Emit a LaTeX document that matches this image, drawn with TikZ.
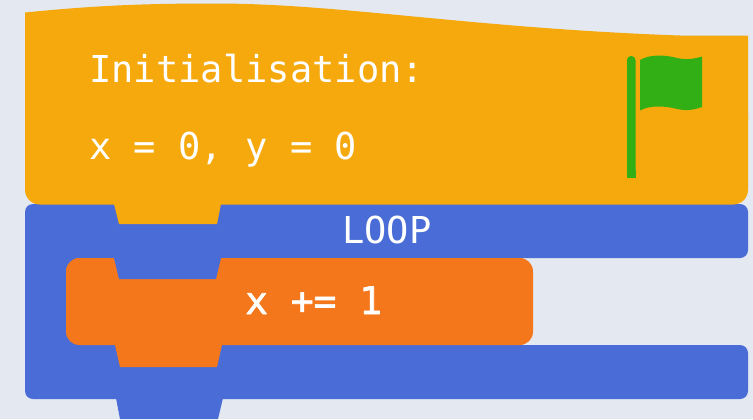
\documentclass[tikz,border=0pt]{standalone}
\usepackage{fontspec}
\setmonofont{DejaVu Sans Mono}
\newfontfamily\stepfont[FakeBold=1.6]{DejaVu Sans Mono}
\usepackage{xcolor}
\definecolor{blockbg}{HTML}{E3E8F1}
\definecolor{blockamber}{HTML}{F6A90C}
\definecolor{blockblue}{HTML}{496CD6}
\definecolor{blockorange}{HTML}{F5771C}
\definecolor{blockgreen}{HTML}{33AF16}
\tikzset{
every picture/.style={line cap=round,line join=round},
init block/.style={fill=blockamber},
loop block/.style={fill=blockblue},
body block/.style={fill=blockorange},
flag part/.style={fill=blockgreen},
block text/.style={text=white, font=\ttfamily\fontsize{27.8}{30}\selectfont, inner sep=0pt, anchor=base west},
body text/.style={block text, font=\stepfont\fontsize{28.4}{30}\selectfont}
}
\begin{document}
\begin{tikzpicture}[x=0.75pt,y=-0.75pt]
\useasboundingbox (0,0) rectangle (753,419);
\fill[blockbg] (0,0) rectangle (753,419);
% loop block
\fill[loop block,rounded corners=6pt] (25,300) -- (25,204) -- (748,204) -- (748,258) -- (66,258) -- (66,345) -- (748,345) -- (748,399) -- (25,399) -- cycle;
\fill[loop block] (60,250) rectangle (85,353);
\fill[loop block] (116,398) -- (223,398) -- (218,419) -- (120,419) -- cycle;
% body block
\fill[body block,rounded corners=10pt] (66,258) rectangle (533,345);
\fill[body block] (115,345) -- (222,345) -- (217,367) -- (120,367) -- cycle;
\fill[loop block] (114,258) -- (221,258) -- (216,279) -- (119,279) -- cycle;
% init block
\fill[init block,rounded corners=11pt] (25,100) -- (25,204.5) -- (748,204.5) -- (748,100) -- cycle;
\fill[init block] (25,120) -- (25,12.5) .. controls (100,5) and (150,3.5) .. (215,3.5)
  .. controls (340,3.5) and (470,28) .. (680,35.5) -- (748,35.5) -- (748,120) -- cycle;
\fill[init block] (114,204) -- (221,204) -- (217,224) -- (119,224) -- cycle;
% flag
\fill[flag part,rounded corners=3pt] (627,178) -- (627,56) -- (635.5,56) -- (635.5,178) -- cycle;
\fill[flag part] (627,178) rectangle (635.5,170);
\fill[flag part] (640,60) .. controls (650,54) and (665,55) .. (675,57.5) .. controls (685,60) and (692,59.5) .. (702,56.5)
  -- (702,107) .. controls (692,110.5) and (685,111) .. (675,108.5) .. controls (665,106) and (650,105) .. (640,110.5) -- cycle;
\node[block text] (title) at (89,82) {Initialisation:};
\node[block text] (vars) at (89,159) {x = 0, y = 0};
\node[block text] (looplabel) at (342,243) {LOOP};
\node[body text] (step) at (245,314) {x += 1};
\end{tikzpicture}
\end{document}
